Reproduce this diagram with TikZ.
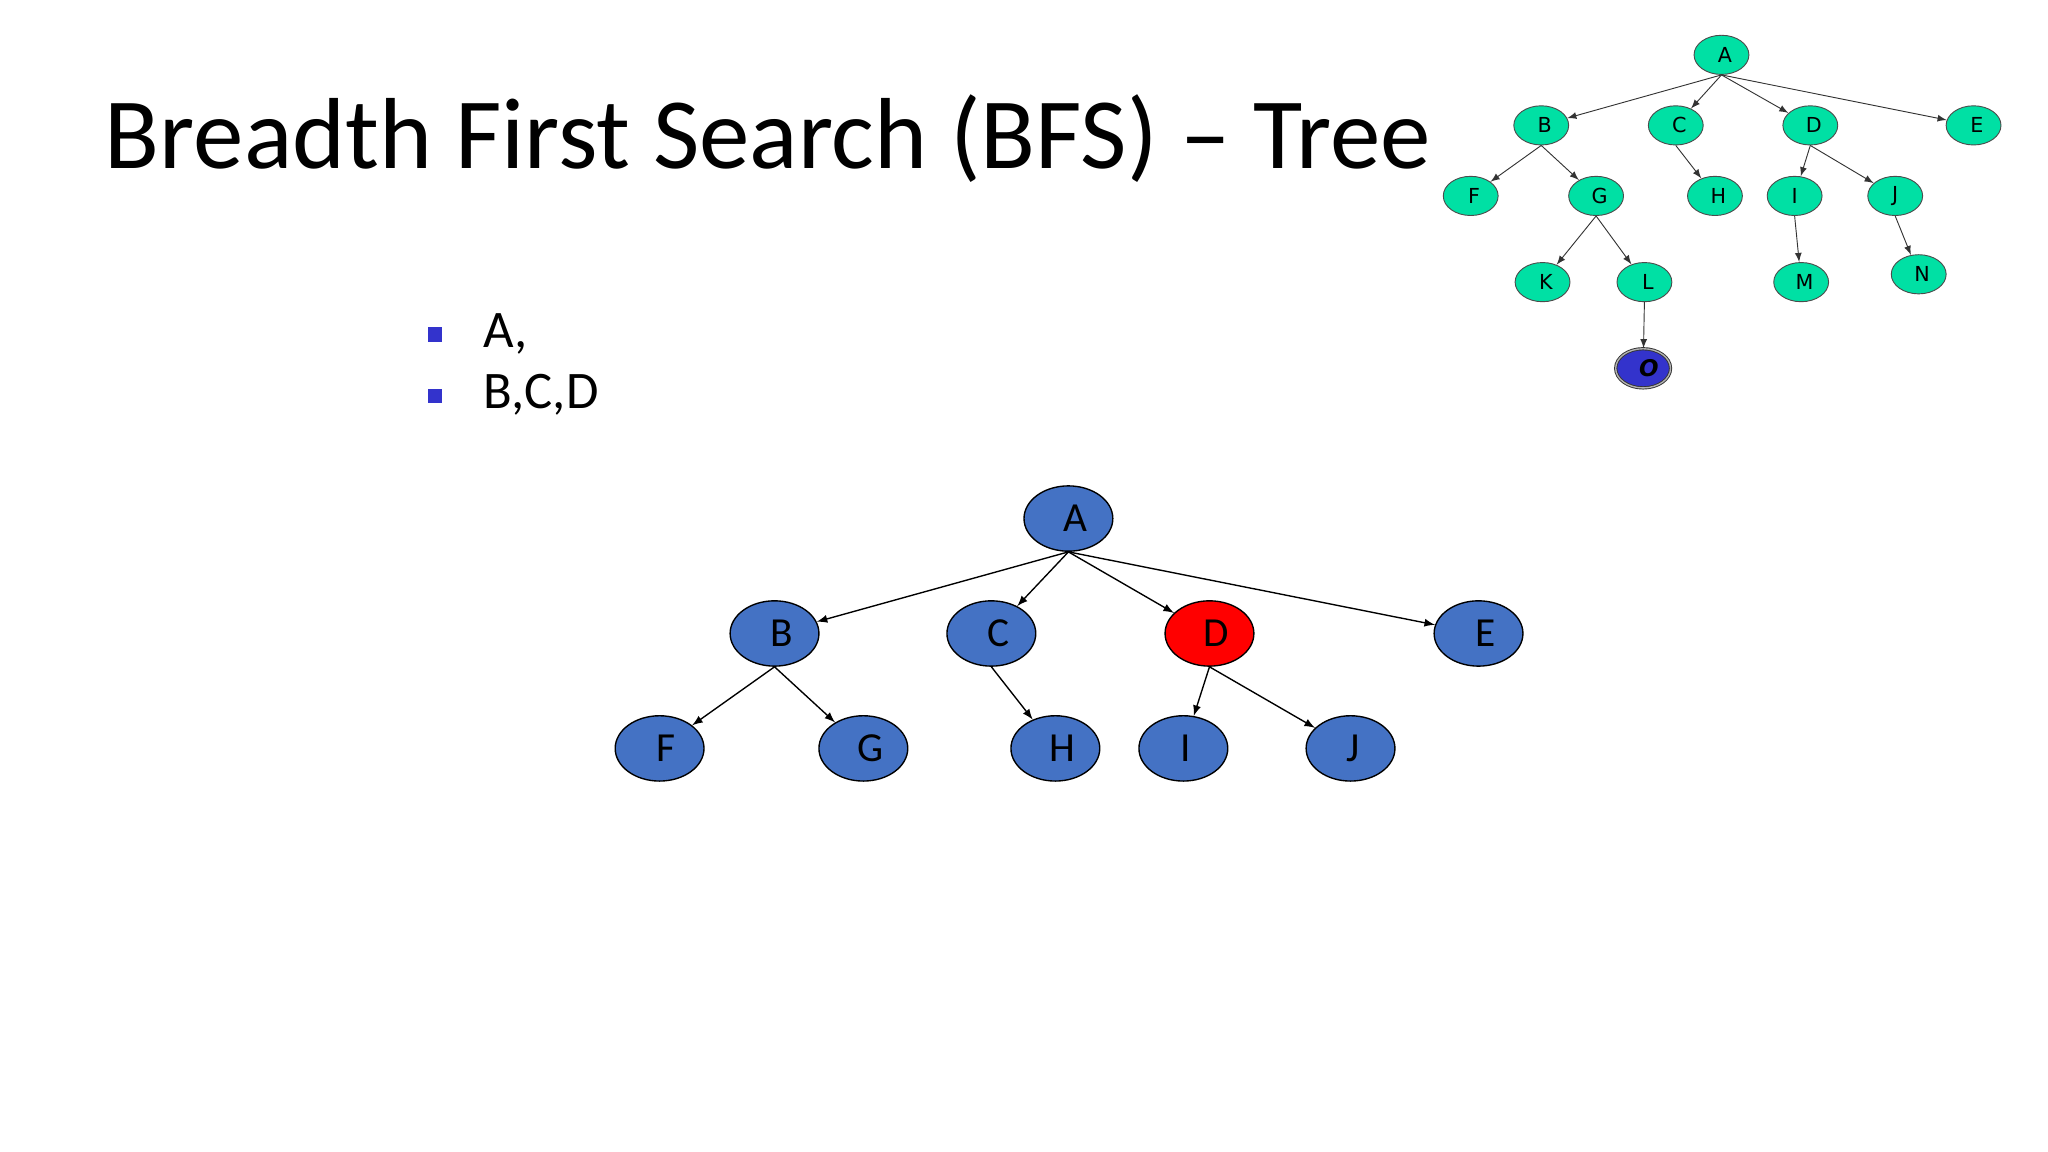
\documentclass[tikz,border=0pt]{standalone}
\usepackage{fontspec}
\usetikzlibrary{shapes.geometric}
\setmainfont{Carlito}
\newfontfamily\smallsans{DejaVu Sans}
\begin{document}
\begin{tikzpicture}[x=0.02cm,y=-0.02cm,
  big/.style={ellipse,draw=black,line width=0.6pt,fill=bigblue,minimum width=68*0.02cm,minimum height=50*0.02cm,inner sep=0pt,font=\fontsize{18}{20}\selectfont},
  sm/.style={ellipse,draw=black!70,line width=0.4pt,fill=smgreen,minimum width=42*0.02cm,minimum height=30*0.02cm,inner sep=0pt,font=\smallsans\fontsize{9}{10}\selectfont},
  arr/.style={-latex,line width=0.6pt},
  sarr/.style={-latex,line width=0.4pt,draw=black!80},
  bul/.style={fill=bulblue,minimum size=11*0.02cm,inner sep=0pt}]
\definecolor{bigblue}{HTML}{4472C4}
\definecolor{smgreen}{HTML}{00E0A4}
\definecolor{bulblue}{HTML}{3333CC}
\useasboundingbox[fill=white] (0,0) rectangle (1568,882);
\node[anchor=base west,font=\fontsize{44}{50}\selectfont,inner sep=0pt] (title) at (80,129) {Breadth First Search (BFS) -- Tree};
\node[bul] (b1) at (333,256) {};
\node[bul] (b2) at (333,303) {};
\node[anchor=base west,font=\fontsize{23}{26}\selectfont,inner sep=0pt] (t1) at (370,266) {A,};
\node[anchor=base west,font=\fontsize{23}{26}\selectfont,inner sep=0pt] (t2) at (370,313) {B,C,D};
% big tree
\node[big] (A) at (818,397) {\hspace{6pt}A};
\node[big] (B) at (593,485) {\hspace{6pt}B};
\node[big] (C) at (759,485) {\hspace{6pt}C};
\node[big,fill=red] (D) at (926,485) {\hspace{6pt}D};
\node[big] (E) at (1132,485) {\hspace{6pt}E};
\node[big] (F) at (505,573) {\hspace{6pt}F};
\node[big] (G) at (661,573) {\hspace{6pt}G};
\node[big] (H) at (808,573) {\hspace{6pt}H};
\node[big] (I) at (906,573) {\hspace{2pt}I};
\node[big] (J) at (1034,573) {\hspace{2pt}J};
\foreach \p/\c in {A/B,A/C,A/D,A/E,B/F,B/G,C/H,D/I,D/J}
  \draw[arr] (\p.south) -- (\c);
% small tree
\node[sm] (a) at (1318,42) {\hspace{3pt}A};
\node[sm] (b) at (1180,96) {\hspace{3pt}B};
\node[sm] (c) at (1283,96) {\hspace{3pt}C};
\node[sm] (d) at (1386,96) {\hspace{3pt}D};
\node[sm] (e) at (1511,96) {\hspace{3pt}E};
\node[sm] (f) at (1126,150) {\hspace{3pt}F};
\node[sm] (g) at (1222,150) {\hspace{3pt}G};
\node[sm] (h) at (1313,150) {\hspace{3pt}H};
\node[sm] (i) at (1374,150) {I};
\node[sm] (j) at (1451,150) {J};
\node[sm] (k) at (1181,216) {\hspace{3pt}K};
\node[sm] (l) at (1259,216) {\hspace{3pt}L};
\node[sm] (m) at (1379,216) {\hspace{3pt}M};
\node[sm] (n) at (1469,210) {\hspace{3pt}N};
\node[sm,fill=bulblue,double=black!30,draw=black!80,double distance=0.6pt,font=\smallsans\bfseries\itshape\fontsize{10}{10}\selectfont] (o) at (1258,282) {\hspace{5pt}O};
\foreach \p/\c in {a/b,a/c,a/d,a/e,b/f,b/g,c/h,d/i,d/j,g/k,g/l,i/m,j/n,l/o}
  \draw[sarr] (\p.south) -- (\c);
\end{tikzpicture}
\end{document}
